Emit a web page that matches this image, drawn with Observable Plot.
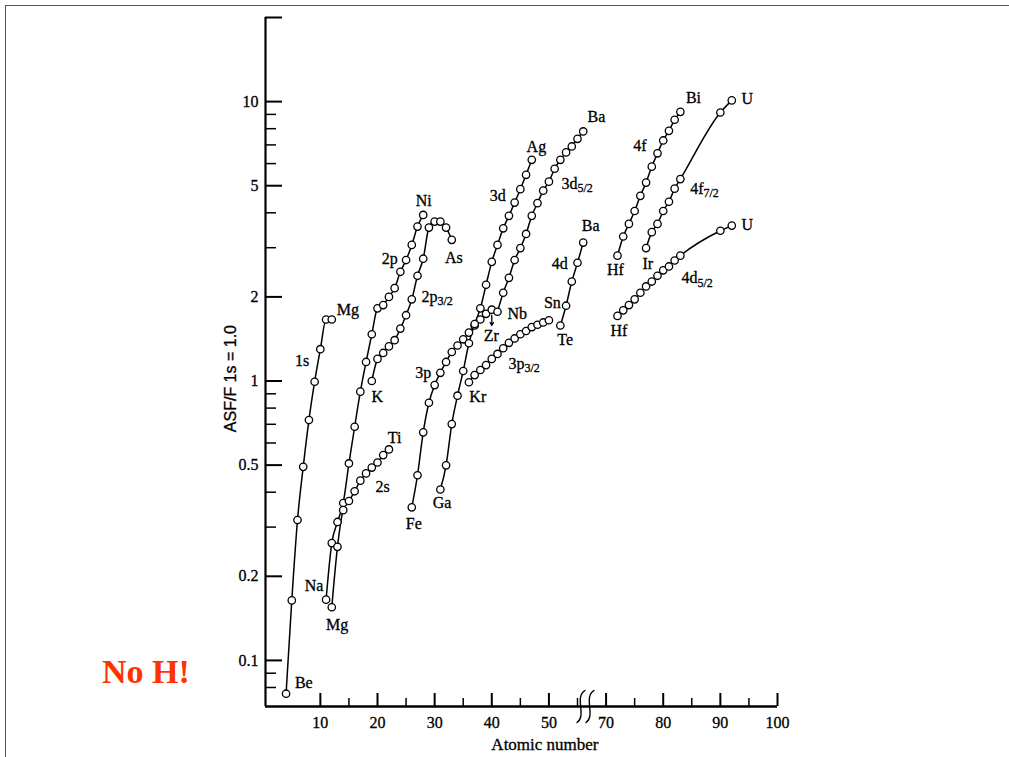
<!DOCTYPE html>
<html>
<head>
<meta charset="utf-8">
<script src="https://cdn.jsdelivr.net/npm/d3@7"></script>
<script src="https://cdn.jsdelivr.net/npm/@observablehq/plot@0.6"></script>
<style>
html, body { margin: 0; padding: 0; background: #fff; }
#wrap { position: relative; width: 1009px; height: 757px; overflow: hidden; }
#frame { position: absolute; left: 5px; top: 5px; width: 1020px; height: 770px;
  border-top: 1px solid #555; border-left: 1px solid #555; pointer-events: none; }
#noh { position: absolute; left: 102px; top: 655px; font: bold 34px/34px "Liberation Serif", serif; color: #ff3300; white-space: nowrap; }
#chart { position: absolute; left: 0; top: 0; }
#chart svg text { stroke: black; stroke-width: 0.3px; }
</style>
</head>
<body>
<div id="wrap">
  <div id="chart"></div>
  <div id="frame"></div>
  <div id="noh">No H!</div>
</div>
<script>
// ---- Data: atomic number (Z) and relative sensitivity (ASF, F1s = 1.0) ----
const z1s = [4, 5, 6, 7, 8, 9, 10, 11, 12];
const v1s = [0.076, 0.164, 0.318, 0.493, 0.725, 0.994, 1.30, 1.66, 1.66];

const z2p = [11, 12, 13, 14, 15, 16, 17, 18, 19, 20, 21, 22, 23, 24, 25, 26, 27, 28];
const v2p = [0.165, 0.263, 0.313, 0.366, 0.507, 0.686, 0.916, 1.17, 1.47, 1.82, 1.87, 2.00, 2.15, 2.46, 2.71, 3.07, 3.57, 3.93];

const z2s = [12, 13, 14, 15, 16, 17, 18, 19, 20, 21, 22];
const v2s = [0.155, 0.255, 0.345, 0.372, 0.403, 0.44, 0.467, 0.49, 0.511, 0.543, 0.569];

const z2p32 = [19, 20, 21, 22, 23, 24, 25, 26, 27, 28, 29, 30, 31, 32, 33];
const v2p32 = [1.0, 1.2, 1.26, 1.33, 1.40, 1.54, 1.72, 1.96, 2.38, 2.74, 3.54, 3.72, 3.72, 3.54, 3.2];

const z3p = [26, 27, 28, 29, 30, 31, 32, 33, 34, 35, 36, 37, 38, 39, 40];
const v3p = [0.353, 0.46, 0.655, 0.836, 0.967, 1.07, 1.17, 1.27, 1.34, 1.41, 1.49, 1.58, 1.66, 1.74, 1.80];

const z3d = [31, 32, 33, 34, 35, 36, 37, 38, 39, 40, 41, 42, 43, 44, 45, 46, 47];
const v3d = [0.409, 0.499, 0.701, 0.886, 1.086, 1.365, 1.60, 1.82, 2.21, 2.67, 3.07, 3.52, 3.90, 4.35, 4.86, 5.47, 6.19];

const z3p32 = [36, 37, 38, 39, 40, 41, 42, 43, 44, 45, 46, 47, 48, 49, 50];
const v3p32 = [0.99, 1.05, 1.095, 1.14, 1.20, 1.25, 1.31, 1.37, 1.42, 1.47, 1.51, 1.56, 1.59, 1.62, 1.65];

const z3d52 = [41, 42, 43, 44, 45, 46, 47, 48, 49, 50, 51, 52, 53, 54, 55, 56];
const v3d52 = [1.77, 2.07, 2.34, 2.71, 2.99, 3.36, 3.90, 4.33, 4.80, 5.17, 5.75, 6.19, 6.58, 6.91, 7.36, 7.82];

const z4d = [52, 53, 54, 55, 56];
const v4d = [1.58, 1.86, 2.27, 2.65, 3.13];

const z4f = [72, 73, 74, 75, 76, 77, 78, 79, 80, 81, 82, 83];
const v4f = [2.81, 3.29, 3.65, 4.06, 4.60, 5.13, 5.85, 6.53, 7.26, 7.86, 8.61, 9.19];

const z4f72 = [77, 78, 79, 80, 81, 82, 83, 90, 92];
const v4f72 = [2.99, 3.41, 3.65, 4.06, 4.38, 4.88, 5.28, 9.14, 10.1];

const z4d52 = [72, 73, 74, 75, 76, 77, 78, 79, 80, 81, 82, 83, 90, 92];
const v4d52 = [1.71, 1.79, 1.87, 1.96, 2.07, 2.18, 2.27, 2.38, 2.49, 2.57, 2.70, 2.81, 3.45, 3.60];

// element labels: [text, Z, value]
const elementLabels = [
  ["Be", 7.1, 0.083], ["Na", 8.9, 0.185], ["Mg", 12.95, 0.134], ["Mg", 14.8, 1.80],
  ["Ni", 28.1, 4.43], ["As", 33.35, 2.77], ["K", 19.95, 0.88], ["Ti", 23.0, 0.626],
  ["Fe", 26.35, 0.308], ["Ga", 31.3, 0.365], ["Kr", 37.55, 0.88], ["Zr", 39.9, 1.455],
  ["Nb", 44.45, 1.74], ["Sn", 50.6, 1.90], ["Te", 52.85, 1.40], ["Ag", 47.8, 6.87],
  ["Ba", 58.3, 8.79], ["Ba", 57.3, 3.60], ["Bi", 85.3, 10.32], ["U", 94.7, 10.23],
  ["Hf", 71.65, 2.49], ["Ir", 77.3, 2.63], ["U", 94.7, 3.63], ["Hf", 72.25, 1.516]
];
// shell labels without subscript: [text, Z, value]
const shellLabels = [
  ["1s", 6.8, 1.18], ["2p", 22.15, 2.74], ["2s", 20.9, 0.419], ["3p", 28.0, 1.067],
  ["3d", 41.05, 4.61], ["4d", 51.9, 2.63], ["4f", 75.9, 6.97]
];
// shell labels with subscript: [main, subscript, Z, value]
const subLabels = [
  ["2p", "3/2", 30.5, 2.006], ["3d", "5/2", 55.0, 5.09], ["3p", "3/2", 45.73, 1.155],
  ["4f", "7/2", 87.05, 4.89], ["4d", "5/2", 86.0, 2.33]
];
const zrArrow = [{z: 40, v1: 1.72, v2: 1.58}];

// axes
const yMajor = [0.1, 0.2, 0.5, 1, 2, 5, 10, 20];
const yLabeled = [0.1, 0.2, 0.5, 1, 2, 5, 10];
const yMinor = [0.08, 0.09, 0.3, 0.4, 0.6, 0.7, 0.8, 0.9, 3, 4, 6, 7, 8, 9];
const xMajor = [10, 20, 30, 40, 50, 70, 80, 90, 100];
const xMinor = [15, 25, 35, 45, 55, 75, 85, 95];
const yTitle = "ASF/F 1s = 1.0";
const xTitle = "Atomic number";
const xTitleZ = 49.3;
const yTitleV = 1.02;
const breakZ = [56.4];

// ---- axis break: Z 56..70 is compressed out (70 sits where 60 would) ----
const tf = z => (z > 60 ? z - 10 : z);
const itf = t => (t > 56 ? t + 10 : t);

const series = [
  ["1s", z1s, v1s], ["2p", z2p, v2p], ["2s", z2s, v2s], ["2p3/2", z2p32, v2p32],
  ["3p", z3p, v3p], ["3d", z3d, v3d], ["3p3/2", z3p32, v3p32], ["3d5/2", z3d52, v3d52],
  ["4d", z4d, v4d], ["4f", z4f, v4f], ["4f7/2", z4f72, v4f72], ["4d5/2", z4d52, v4d52]
];
const table = series.flatMap(([s, zs, vs]) => zs.map((z, i) => ({s, z, v: vs[i]})));

// shape for the axis-break glyph: two upright S-curves
const breakShape = {
  draw(context, l) {
    for (const dx of [-4.5, 4.5]) {
      context.moveTo(dx + 4, -l);
      context.bezierCurveTo(dx - 7, -l * 0.8, dx + 6, -l * 0.2, dx - 4, 0);
    }
  }
};

const serif = "'Liberation Serif', 'Times New Roman', serif";
const W = 1009, H = 757;
const mL = 265, mR = 232, mT = 17, mB = 51;
const fw = W - mL - mR, fh = H - mT - mB;

const chart = Plot.plot({
  width: W, height: H,
  marginLeft: mL, marginRight: mR, marginTop: mT, marginBottom: mB,
  x: {type: "linear", domain: [0.4, 90]},
  y: {type: "log", domain: [0.0684, 20]},
  style: {fontFamily: serif, fontSize: "16px", color: "black", background: "transparent", overflow: "visible"},
  marks: [
    // inward ticks
    Plot.gridY(yMinor, {insetRight: fw - 11, stroke: "black", strokeOpacity: 1, strokeWidth: 1.5}),
    Plot.gridY(yMajor, {insetRight: fw - 17, stroke: "black", strokeOpacity: 1, strokeWidth: 2}),
    Plot.gridX(xMinor.map(tf), {insetTop: fh - 8, stroke: "black", strokeOpacity: 1, strokeWidth: 1.5}),
    Plot.gridX(xMajor.map(tf), {insetTop: fh - 13, stroke: "black", strokeOpacity: 1, strokeWidth: 2}),
    // tick labels
    Plot.axisY(yLabeled, {tickSize: 0, tickPadding: 7, tickFormat: d => String(d), fontSize: 16, label: null}),
    Plot.axisX(xMajor.map(tf), {tickSize: 0, tickPadding: 10, tickFormat: t => String(itf(t)), fontSize: 16, label: null}),
    // axis lines
    Plot.ruleX([0.4], {strokeWidth: 2.2}),
    Plot.ruleY([0.0684], {strokeWidth: 2.6}),
    // axis break symbol
    Plot.vector(breakZ, {x: d => d, frameAnchor: "bottom", anchor: "middle", length: 32, shape: breakShape, stroke: "black", strokeWidth: 1.4}),
    // curves
    Plot.line(table, {x: d => tf(d.z), y: "v", z: "s", curve: "monotone-x", stroke: "black", strokeWidth: 1.5}),
    Plot.dot(table, {x: d => tf(d.z), y: "v", r: 3.7, fill: "white", stroke: "black", strokeWidth: 1.3}),
    Plot.arrow(zrArrow, {x1: d => tf(d.z), x2: d => tf(d.z), y1: "v1", y2: "v2", headLength: 5, strokeWidth: 1.3, stroke: "black"}),
    // labels
    Plot.text(elementLabels, {x: d => tf(d[1]), y: d => d[2], text: d => d[0], fontSize: 16, fill: "black"}),
    Plot.text(shellLabels, {x: d => tf(d[1]), y: d => d[2], text: d => d[0], fontSize: 16, fill: "black"}),
    Plot.text(subLabels, {x: d => tf(d[2]), y: d => d[3], text: d => d[0], textAnchor: "end", fontSize: 16, fill: "black"}),
    Plot.text(subLabels, {x: d => tf(d[2]), y: d => d[3], text: d => d[1], textAnchor: "start", dy: 5, fontSize: 12, fill: "black"}),
    // titles
    Plot.text([xTitle], {x: () => xTitleZ, frameAnchor: "bottom", lineAnchor: "middle", textAnchor: "middle", dy: 38, text: d => d, fontSize: 17}),
    Plot.text([yTitle], {y: () => yTitleV, frameAnchor: "left", textAnchor: "middle", lineAnchor: "middle", dx: -35, rotate: -90, text: d => d, fontSize: 16, fontFamily: "'Liberation Sans', Arial, sans-serif"})
  ]
});
document.getElementById("chart").appendChild(chart);
</script>
</body>
</html>
